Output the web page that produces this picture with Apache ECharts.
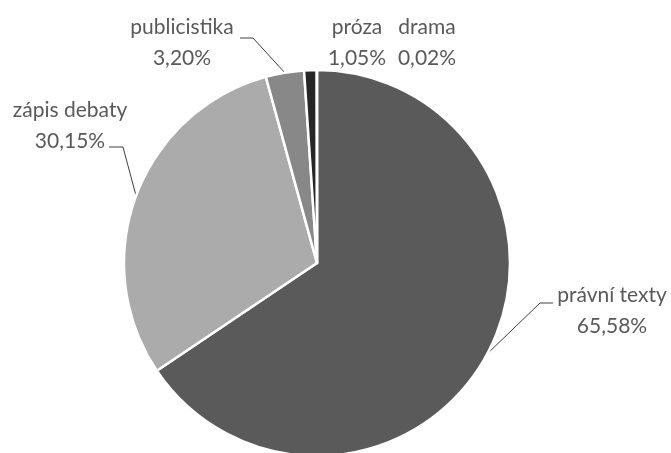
<!DOCTYPE html>
<html>
<head>
<meta charset="utf-8">
<script src="https://cdn.jsdelivr.net/npm/echarts@6/dist/echarts.min.js"></script>
<style>
  html, body { margin: 0; padding: 0; background: #ffffff; }
  #chart { width: 671px; height: 453px; }
</style>
</head>
<body>
<div id="chart"></div>
<script>
// Genre shares of the corpus (percent)
const categories = ['právní texty', 'zápis debaty', 'publicistika', 'próza', 'drama'];
const shares = [65.58, 30.15, 3.20, 1.05, 0.02];
const sliceColors = ['#5a5a5a', '#ababab', '#888888', '#262626', '#0d0d0d'];

// Label placement: centre of each two-line label and the elbow of its leader line
const labelCenters = [[612, 311], [70, 126], [182, 43], [357, 43], [427, 43]];
const leaderElbows = [
  [[540, 303], [553, 303]],
  [[123, 147], [109, 147]],
  [[253, 38], [240, 38]],
  null,
  null
];

const fmt = v => v.toFixed(2).replace('.', ',') + '%';

const chart = echarts.init(document.getElementById('chart'), null, { renderer: 'canvas' });

chart.setOption({
  animation: false,
  backgroundColor: '#ffffff',
  series: [{
    type: 'pie',
    center: [317, 263],
    radius: [0, 193],
    startAngle: 90,
    clockwise: true,
    avoidLabelOverlap: false,
    emphasis: { disabled: true },
    itemStyle: { borderColor: '#ffffff', borderWidth: 2.5 },
    label: {
      show: true,
      position: 'outside',
      fontFamily: 'Lato',
      fontSize: 21,
      color: '#595959',
      lineHeight: 31,
      align: 'center',
      formatter: p => p.name + '\n' + fmt(p.value)
    },
    labelLine: {
      show: true,
      lineStyle: { color: '#404040', width: 1 }
    },
    labelLayout: params => {
      const i = params.dataIndex;
      const c = labelCenters[i];
      const out = { x: c[0], y: c[1], align: 'center', verticalAlign: 'middle' };
      if (leaderElbows[i] && params.labelLinePoints) {
        out.labelLinePoints = [params.labelLinePoints[0]].concat(leaderElbows[i]);
      }
      return out;
    },
    data: categories.map((name, i) => ({
      name: name,
      value: shares[i],
      itemStyle: { color: sliceColors[i] },
      labelLine: { show: leaderElbows[i] !== null }
    }))
  }]
});
</script>
</body>
</html>
